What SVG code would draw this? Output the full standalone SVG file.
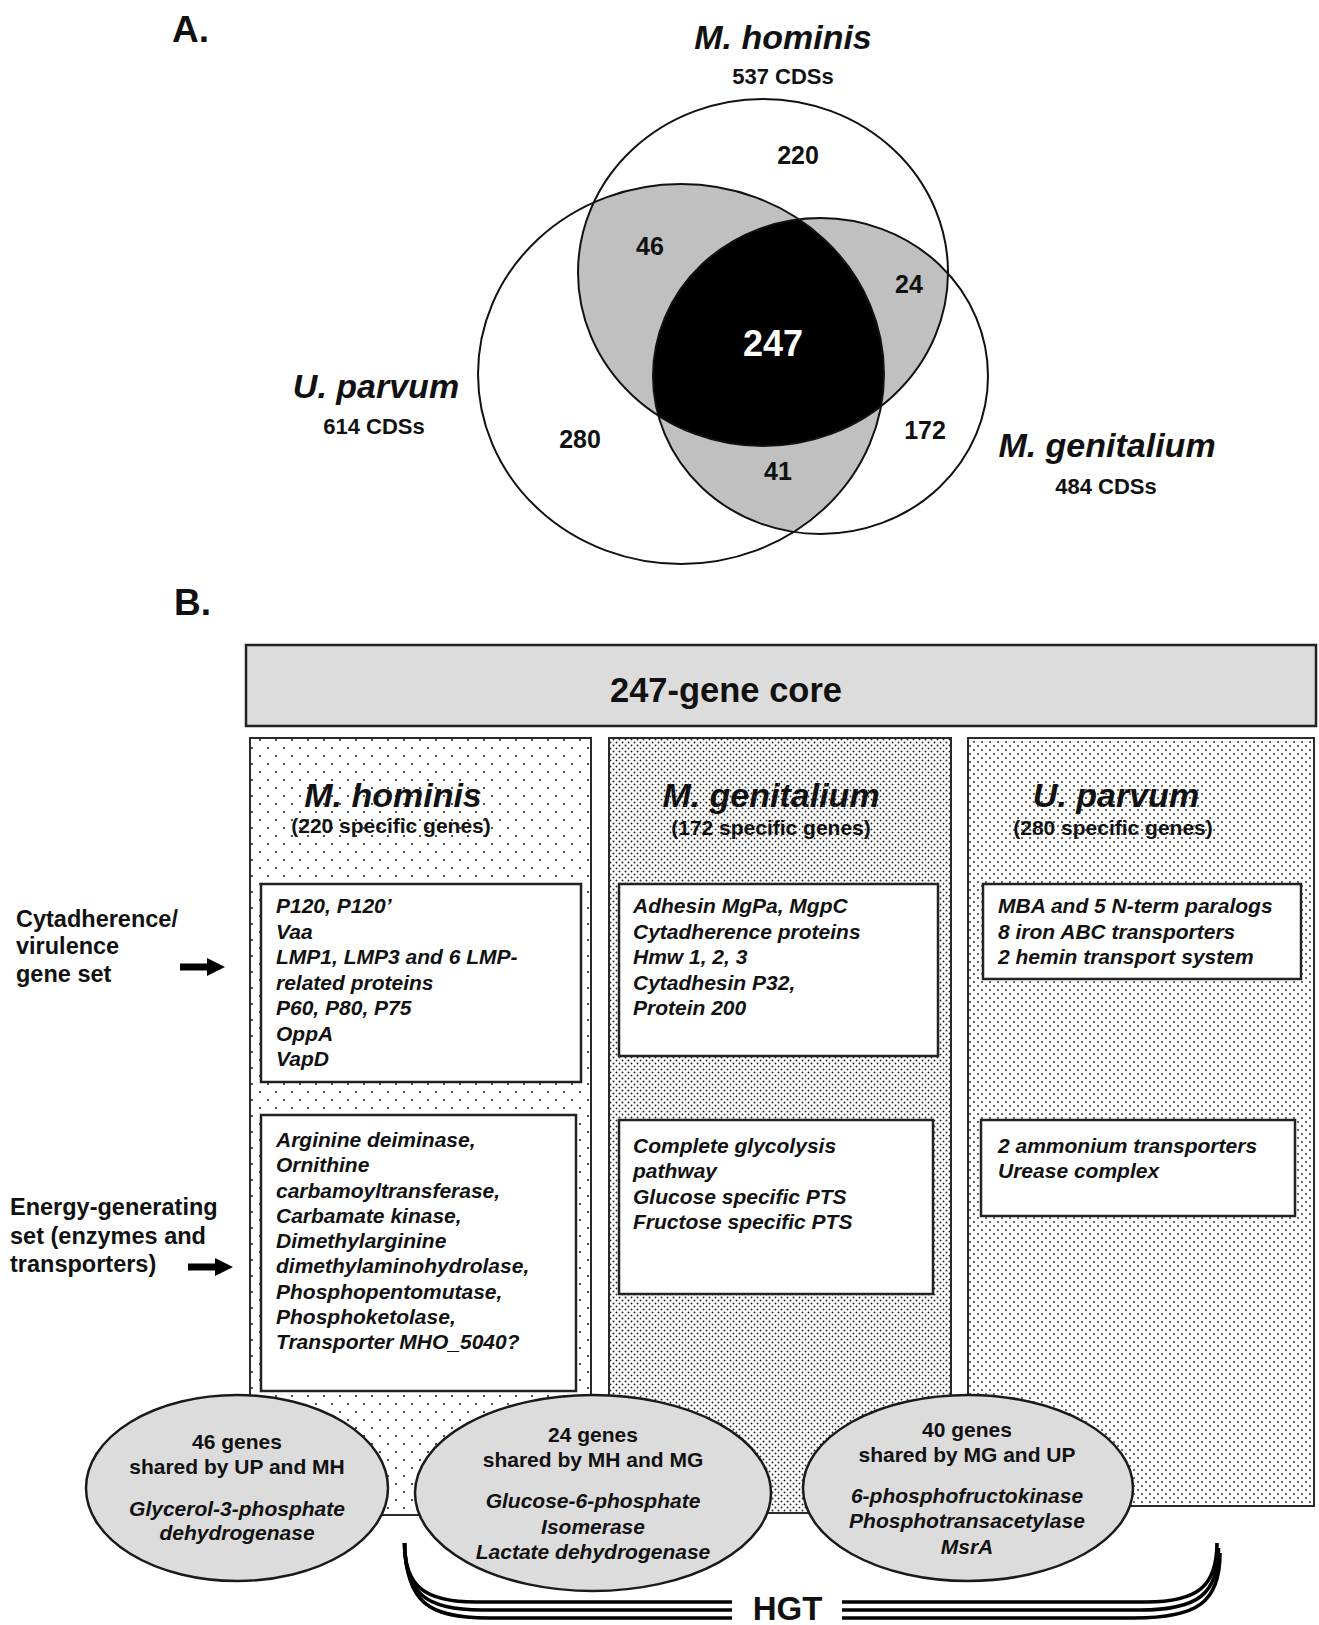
<svg xmlns="http://www.w3.org/2000/svg" width="1319" height="1625" viewBox="0 0 1319 1625">
<defs>
<style>
text{font-family:"Liberation Sans",Arial,Helvetica,sans-serif;font-weight:bold;fill:#111}
.it{font-style:italic}
.lbl{font-size:37px}
.sp{font-size:34px;font-style:italic}
.cds{font-size:22px}
.num{font-size:25px;text-anchor:middle}
.mid{text-anchor:middle}
.bx{font-size:21px;font-style:italic}
.el{font-size:21px;text-anchor:middle}
.side{font-size:23.5px}
.ven{fill:none;stroke:#111;stroke-width:2}
.box{fill:#fff;stroke:#222;stroke-width:2.5}
.col{stroke:#2a2a2a;stroke-width:2}
.oval{fill:#dcdcdc;stroke:#1a1a1a;stroke-width:2.5}
.brace{fill:none;stroke:#000;stroke-width:3.6}
</style>
<pattern id="p1" patternUnits="userSpaceOnUse" width="16" height="16">
<rect width="16" height="16" fill="#fff"/>
<circle cx="4" cy="4" r="1.1" fill="#222"/>
<circle cx="12" cy="12" r="1.1" fill="#222"/>
</pattern>
<pattern id="p2" patternUnits="userSpaceOnUse" width="6" height="6">
<rect width="6" height="6" fill="#fff"/>
<circle cx="1.5" cy="1.5" r="0.95" fill="#222"/>
<circle cx="4.5" cy="4.5" r="0.95" fill="#222"/>
</pattern>
<pattern id="p3" patternUnits="userSpaceOnUse" width="8" height="8">
<rect width="8" height="8" fill="#fff"/>
<circle cx="2" cy="2" r="0.9" fill="#222"/>
<circle cx="6" cy="6" r="0.9" fill="#222"/>
</pattern>
<clipPath id="cMH"><ellipse cx="763" cy="272.5" rx="185" ry="173.5"/></clipPath>
<clipPath id="cUP"><ellipse cx="681" cy="374" rx="203" ry="190"/></clipPath>
<clipPath id="cMG"><ellipse cx="820.5" cy="376" rx="167.5" ry="158"/></clipPath>
</defs>
<rect width="1319" height="1625" fill="#fff"/>

<!-- Panel A -->
<text class="lbl" x="172" y="42">A.</text>
<g id="venn">
<g clip-path="url(#cUP)"><ellipse cx="763" cy="272.5" rx="185" ry="173.5" fill="#c0c0c0"/></g>
<g clip-path="url(#cMH)"><ellipse cx="820.5" cy="376" rx="167.5" ry="158" fill="#c0c0c0"/></g>
<g clip-path="url(#cUP)"><ellipse cx="820.5" cy="376" rx="167.5" ry="158" fill="#c0c0c0"/></g>
<g clip-path="url(#cUP)"><g clip-path="url(#cMH)"><ellipse cx="820.5" cy="376" rx="167.5" ry="158" fill="#000"/></g></g>
<ellipse id="set-MH" class="ven" cx="763" cy="272.5" rx="185" ry="173.5"/>
<ellipse id="set-UP" class="ven" cx="681" cy="374" rx="203" ry="190"/>
<ellipse id="set-MG" class="ven" cx="820.5" cy="376" rx="167.5" ry="158"/>
<text class="num" x="798" y="164">220</text>
<text class="num" x="650" y="255">46</text>
<text class="num" x="909" y="293">24</text>
<text x="773" y="356" style="font-size:36px;text-anchor:middle;fill:#fff">247</text>
<text class="num" x="580" y="448">280</text>
<text class="num" x="925" y="439">172</text>
<text class="num" x="778" y="480">41</text>
</g>
<g id="label-MH">
<text class="sp mid" x="783" y="49">M. hominis</text>
<text class="cds mid" x="783" y="84">537 CDSs</text>
</g>
<g id="label-UP">
<text class="sp mid" x="376" y="398">U. parvum</text>
<text class="cds mid" x="374" y="434">614 CDSs</text>
</g>
<g id="label-MG">
<text class="sp mid" x="1107" y="457">M. genitalium</text>
<text class="cds mid" x="1106" y="494">484 CDSs</text>
</g>

<!-- Panel B -->
<text class="lbl" x="174" y="615">B.</text>
<g id="core">
<rect x="246" y="645" width="1070" height="81" fill="#dcdcdc" stroke="#222" stroke-width="2.5"/>
<text class="mid" x="726" y="702" style="font-size:34.5px">247-gene core</text>
</g>

<g id="col-MH">
<rect class="col" x="250" y="738" width="341" height="777" fill="url(#p1)"/>
<text class="sp mid" x="393" y="807">M. hominis</text>
<text class="mid" x="391" y="833" style="font-size:21px">(220 specific genes)</text>
</g>
<g id="col-MG">
<rect class="col" x="609" y="738" width="342" height="775" fill="url(#p2)"/>
<text class="sp mid" x="771" y="807">M. genitalium</text>
<text class="mid" x="771" y="835" style="font-size:21px">(172 specific genes)</text>
</g>
<g id="col-UP">
<rect class="col" x="968" y="738" width="346" height="768" fill="url(#p3)"/>
<text class="sp mid" x="1116" y="807">U. parvum</text>
<text class="mid" x="1113" y="835" style="font-size:21px">(280 specific genes)</text>
</g>

<g id="box-MH-cyt">
<rect class="box" x="261" y="884" width="320" height="198"/>
<text class="bx" x="276" y="913">P120, P120’</text>
<text class="bx" x="276" y="938.5">Vaa</text>
<text class="bx" x="276" y="964">LMP1, LMP3 and 6 LMP-</text>
<text class="bx" x="276" y="989.5">related proteins</text>
<text class="bx" x="276" y="1015">P60, P80, P75</text>
<text class="bx" x="276" y="1040.5">OppA</text>
<text class="bx" x="276" y="1066">VapD</text>
</g>
<g id="box-MH-energy">
<rect class="box" x="261" y="1115" width="315" height="276"/>
<text class="bx" x="276" y="1147">Arginine deiminase,</text>
<text class="bx" x="276" y="1172.3">Ornithine</text>
<text class="bx" x="276" y="1197.5">carbamoyltransferase,</text>
<text class="bx" x="276" y="1222.8">Carbamate kinase,</text>
<text class="bx" x="276" y="1248">Dimethylarginine</text>
<text class="bx" x="276" y="1273.3">dimethylaminohydrolase,</text>
<text class="bx" x="276" y="1298.5">Phosphopentomutase,</text>
<text class="bx" x="276" y="1323.8">Phosphoketolase,</text>
<text class="bx" x="276" y="1349">Transporter MHO_5040?</text>
</g>
<g id="box-MG-cyt">
<rect class="box" x="619" y="884" width="319" height="172"/>
<text class="bx" x="633" y="913">Adhesin MgPa, MgpC</text>
<text class="bx" x="633" y="938.5">Cytadherence proteins</text>
<text class="bx" x="633" y="964">Hmw 1, 2, 3</text>
<text class="bx" x="633" y="989.5">Cytadhesin P32,</text>
<text class="bx" x="633" y="1015">Protein 200</text>
</g>
<g id="box-MG-energy">
<rect class="box" x="619" y="1120" width="314" height="174"/>
<text class="bx" x="633" y="1153">Complete glycolysis</text>
<text class="bx" x="633" y="1178.3">pathway</text>
<text class="bx" x="633" y="1203.5">Glucose specific PTS</text>
<text class="bx" x="633" y="1228.8">Fructose specific PTS</text>
</g>
<g id="box-UP-cyt">
<rect class="box" x="983" y="884" width="318" height="95"/>
<text class="bx" x="998" y="913">MBA and 5 N-term paralogs</text>
<text class="bx" x="998" y="938.5">8 iron ABC transporters</text>
<text class="bx" x="998" y="964">2 hemin transport system</text>
</g>
<g id="box-UP-energy">
<rect class="box" x="981" y="1120" width="314" height="96"/>
<text class="bx" x="998" y="1153">2 ammonium transporters</text>
<text class="bx" x="998" y="1178.3">Urease complex</text>
</g>

<g id="label-cyt">
<text class="side" x="16" y="926.5">Cytadherence/</text>
<text class="side" x="16" y="954">virulence</text>
<text class="side" x="16" y="981.5">gene set</text>
</g>
<g id="label-energy">
<text class="side" x="10" y="1215">Energy-generating</text>
<text class="side" x="10" y="1243.5">set (enzymes and</text>
<text class="side" x="10" y="1272">transporters)</text>
</g>

<g id="oval-UP-MH">
<ellipse class="oval" cx="237" cy="1488" rx="151" ry="93"/>
<text class="el" x="237" y="1449">46 genes</text>
<text class="el" x="237" y="1474">shared by UP and MH</text>
<text class="el it" x="237" y="1516">Glycerol-3-phosphate</text>
<text class="el it" x="237" y="1540">dehydrogenase</text>
</g>
<g id="oval-MH-MG">
<ellipse class="oval" cx="593" cy="1493" rx="178" ry="98"/>
<text class="el" x="593" y="1442">24 genes</text>
<text class="el" x="593" y="1467">shared by MH and MG</text>
<text class="el it" x="593" y="1508">Glucose-6-phosphate</text>
<text class="el it" x="593" y="1534">Isomerase</text>
<text class="el it" x="593" y="1559">Lactate dehydrogenase</text>
</g>
<g id="oval-MG-UP">
<ellipse class="oval" cx="968" cy="1488" rx="165" ry="93"/>
<text class="el" x="967" y="1437">40 genes</text>
<text class="el" x="967" y="1462">shared by MG and UP</text>
<text class="el it" x="967" y="1503">6-phosphofructokinase</text>
<text class="el it" x="967" y="1528">Phosphotransacetylase</text>
<text class="el it" x="967" y="1554">MsrA</text>
</g>

<g id="connectors">
<polygon points="180,963.5 207,963.5 207,958 225,967 207,976 207,970.5 180,970.5" fill="#000"/>
<polygon points="188,1263.5 215,1263.5 215,1258 233,1267 215,1276 215,1270.5 188,1270.5" fill="#000"/>
<g id="hgt-brace">
<path class="brace" d="M404.5,1543 C404.5,1586 424,1602 476,1602 L732,1602"/>
<path class="brace" d="M404.5,1543 C405,1594 426,1610 482,1610 L732,1610"/>
<path class="brace" d="M404.5,1543 C406,1602 428,1618 488,1618 L732,1618"/>
<path class="brace" d="M1217,1543 C1217,1586 1198,1602 1146,1602 L842,1602"/>
<path class="brace" d="M1218.5,1548 C1218.5,1594 1198,1610 1140,1610 L842,1610"/>
<path class="brace" d="M1220,1553 C1220,1602 1198,1618 1134,1618 L842,1618"/>
</g>
<text class="mid" x="787.5" y="1620" style="font-size:33px">HGT</text>
</g>
</svg>
